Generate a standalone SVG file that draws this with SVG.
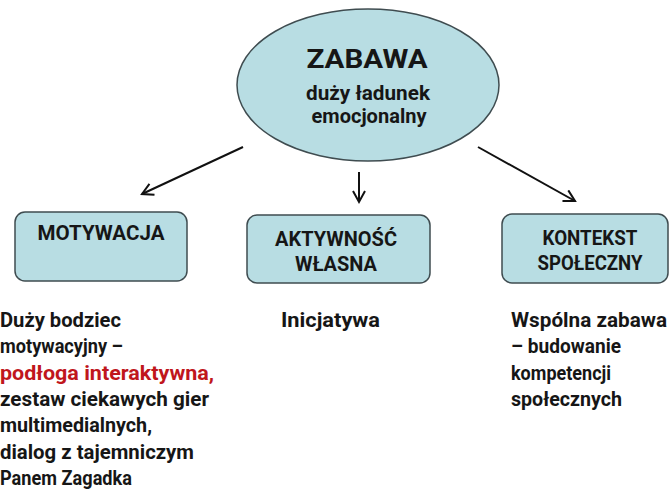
<svg xmlns="http://www.w3.org/2000/svg" width="669" height="491" viewBox="0 0 669 491">
<defs>
<marker id="arr" markerUnits="userSpaceOnUse" markerWidth="16" markerHeight="16" refX="12" refY="7" orient="auto">
<path d="M1,1 L12,7 L1,13" fill="none" stroke="#111" stroke-width="2"/>
</marker>
<style>
.shape{fill:#b8dde3;stroke:#3f4c50;stroke-width:1.5}
.t{font-family:Roboto,"Open Sans","DejaVu Sans",sans-serif;font-weight:bold;fill:#161616}
.lbl{font-size:20px;text-anchor:middle}
.body{font-size:20px}
.red{fill:#c0161c}
.conn{stroke:#111;stroke-width:2;fill:none;marker-end:url(#arr)}
</style>
</defs>
<rect width="669" height="491" fill="#ffffff"/>
<g id="connectors">
<line class="conn" x1="243" y1="147" x2="142" y2="194"/>
<line class="conn" x1="359" y1="172" x2="359" y2="202"/>
<line class="conn" x1="478" y1="147" x2="575" y2="201"/>
</g>
<g id="zabawa">
<ellipse class="shape" cx="368" cy="85" rx="131" ry="76"/>
<text class="t" x="367" y="68" font-size="26" text-anchor="middle" textLength="121" lengthAdjust="spacingAndGlyphs">ZABAWA</text>
<text class="t" x="368" y="100" font-size="19.5" text-anchor="middle" textLength="124" lengthAdjust="spacingAndGlyphs">duży ładunek</text>
<text class="t" x="369" y="123" font-size="19.5" text-anchor="middle" textLength="115" lengthAdjust="spacingAndGlyphs">emocjonalny</text>
</g>
<g id="motywacja">
<rect class="shape" x="15" y="212" width="172" height="69" rx="10"/>
<text class="t lbl" x="101" y="240" textLength="127" lengthAdjust="spacingAndGlyphs">MOTYWACJA</text>
</g>
<g id="aktywnosc">
<rect class="shape" x="247" y="215" width="183" height="68" rx="10"/>
<text class="t lbl" x="336" y="246" textLength="122" lengthAdjust="spacingAndGlyphs">AKTYWNOŚĆ</text>
<text class="t lbl" x="336" y="271" textLength="82" lengthAdjust="spacingAndGlyphs">WŁASNA</text>
</g>
<g id="kontekst">
<rect class="shape" x="502" y="214" width="166" height="69" rx="10"/>
<text class="t lbl" x="590" y="245" textLength="95" lengthAdjust="spacingAndGlyphs">KONTEKST</text>
<text class="t lbl" x="590" y="270" textLength="105" lengthAdjust="spacingAndGlyphs">SPOŁECZNY</text>
</g>
<g id="motywacja-text">
<text class="t body" x="0" y="327" textLength="121" lengthAdjust="spacingAndGlyphs">Duży bodziec</text>
<text class="t body" x="0" y="353" textLength="123" lengthAdjust="spacingAndGlyphs">motywacyjny –</text>
<text class="t body red" x="0" y="380" textLength="214" lengthAdjust="spacingAndGlyphs">podłoga interaktywna,</text>
<text class="t body" x="0" y="406" textLength="209" lengthAdjust="spacingAndGlyphs">zestaw ciekawych gier</text>
<text class="t body" x="0" y="432" textLength="152" lengthAdjust="spacingAndGlyphs">multimedialnych,</text>
<text class="t body" x="0" y="459" textLength="194" lengthAdjust="spacingAndGlyphs">dialog z tajemniczym</text>
<text class="t body" x="0" y="485" textLength="132" lengthAdjust="spacingAndGlyphs">Panem Zagadka</text>
</g>
<g id="aktywnosc-text">
<text class="t body" x="281" y="327" textLength="99" lengthAdjust="spacingAndGlyphs">Inicjatywa</text>
</g>
<g id="kontekst-text">
<text class="t body" x="511" y="327" textLength="156" lengthAdjust="spacingAndGlyphs">Wspólna zabawa</text>
<text class="t body" x="511" y="353" textLength="110" lengthAdjust="spacingAndGlyphs">– budowanie</text>
<text class="t body" x="511" y="380" textLength="100" lengthAdjust="spacingAndGlyphs">kompetencji</text>
<text class="t body" x="511" y="406" textLength="111" lengthAdjust="spacingAndGlyphs">społecznych</text>
</g>
</svg>
